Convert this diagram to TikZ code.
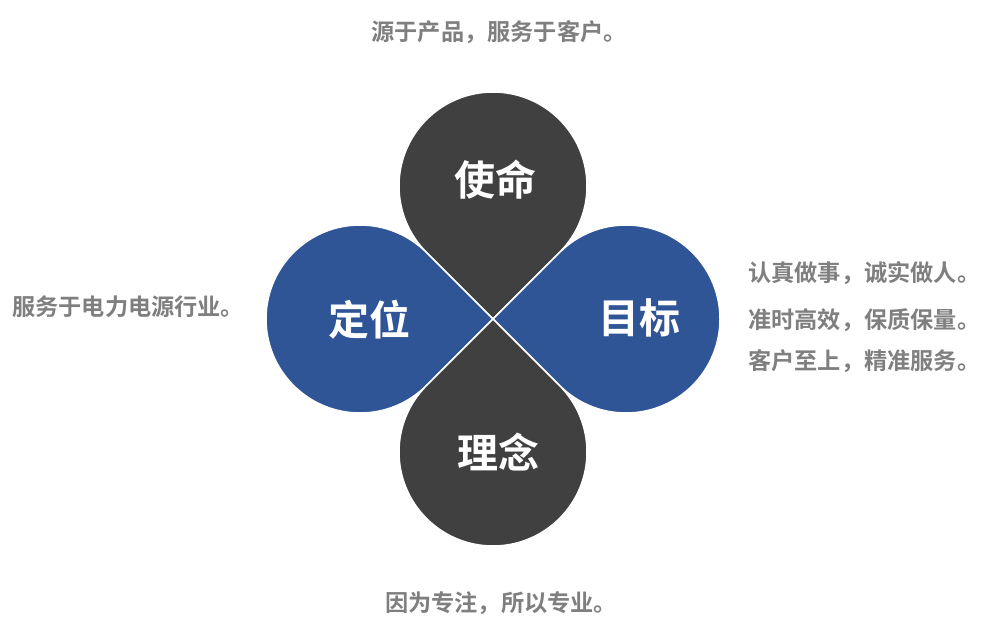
\documentclass[tikz,border=0pt]{standalone}
\usepackage{fontspec}
\newfontfamily\cjk{Noto Sans CJK SC}[BoldFont={Noto Sans CJK SC Bold}]
\usetikzlibrary{positioning,calc}
\definecolor{petaldark}{HTML}{404040}
\definecolor{petalblue}{HTML}{2F5597}
\definecolor{notegray}{HTML}{7F7F7F}

\begin{document}
\begin{tikzpicture}[x=1pt,y=1pt,
        petal/.style={draw=white,line width=1.5pt,line join=miter},
        title/.style={text=white,font=\cjk\bfseries\fontsize{41}{43}\selectfont},
        note/.style={text=notegray,font=\cjk\bfseries\fontsize{23.2}{25}\selectfont,inner sep=0pt}]
        \useasboundingbox (0,0) rectangle (991,625);
        \coordinate (o) at (493,306);
        % four petals meeting in o
        \foreach \d/\c in {90/petaldark,180/petalblue,0/petalblue,270/petaldark}
            \draw[petal,fill=\c] (o) -- ($(o)+(\d:133)+(\d+135:94)$)
                arc[start angle=\d+135,end angle=\d-135,radius=94] -- cycle;
        \node[title] (mission) at (495,445) {使命};
        \node[title] (position) at (369,305) {定位};
        \node[title] (goal) at (639,307) {目标};
        \node[title] (idea) at (498,173) {理念};
        \node[note] (top) at (499,593) {源于产品，服务于客户。};
        \node[note,anchor=west] (left) at (12,318) {服务于电力电源行业。};
        \node[note,anchor=west] (r1) at (748,352) {认真做事，诚实做人。};
        \node[note,anchor=west] (r2) at (748,305) {准时高效，保质保量。};
        \node[note,anchor=west] (r3) at (748,264) {客户至上，精准服务。};
        \node[note] (bottom) at (501,22) {因为专注，所以专业。};
\end{tikzpicture}
\end{document}
